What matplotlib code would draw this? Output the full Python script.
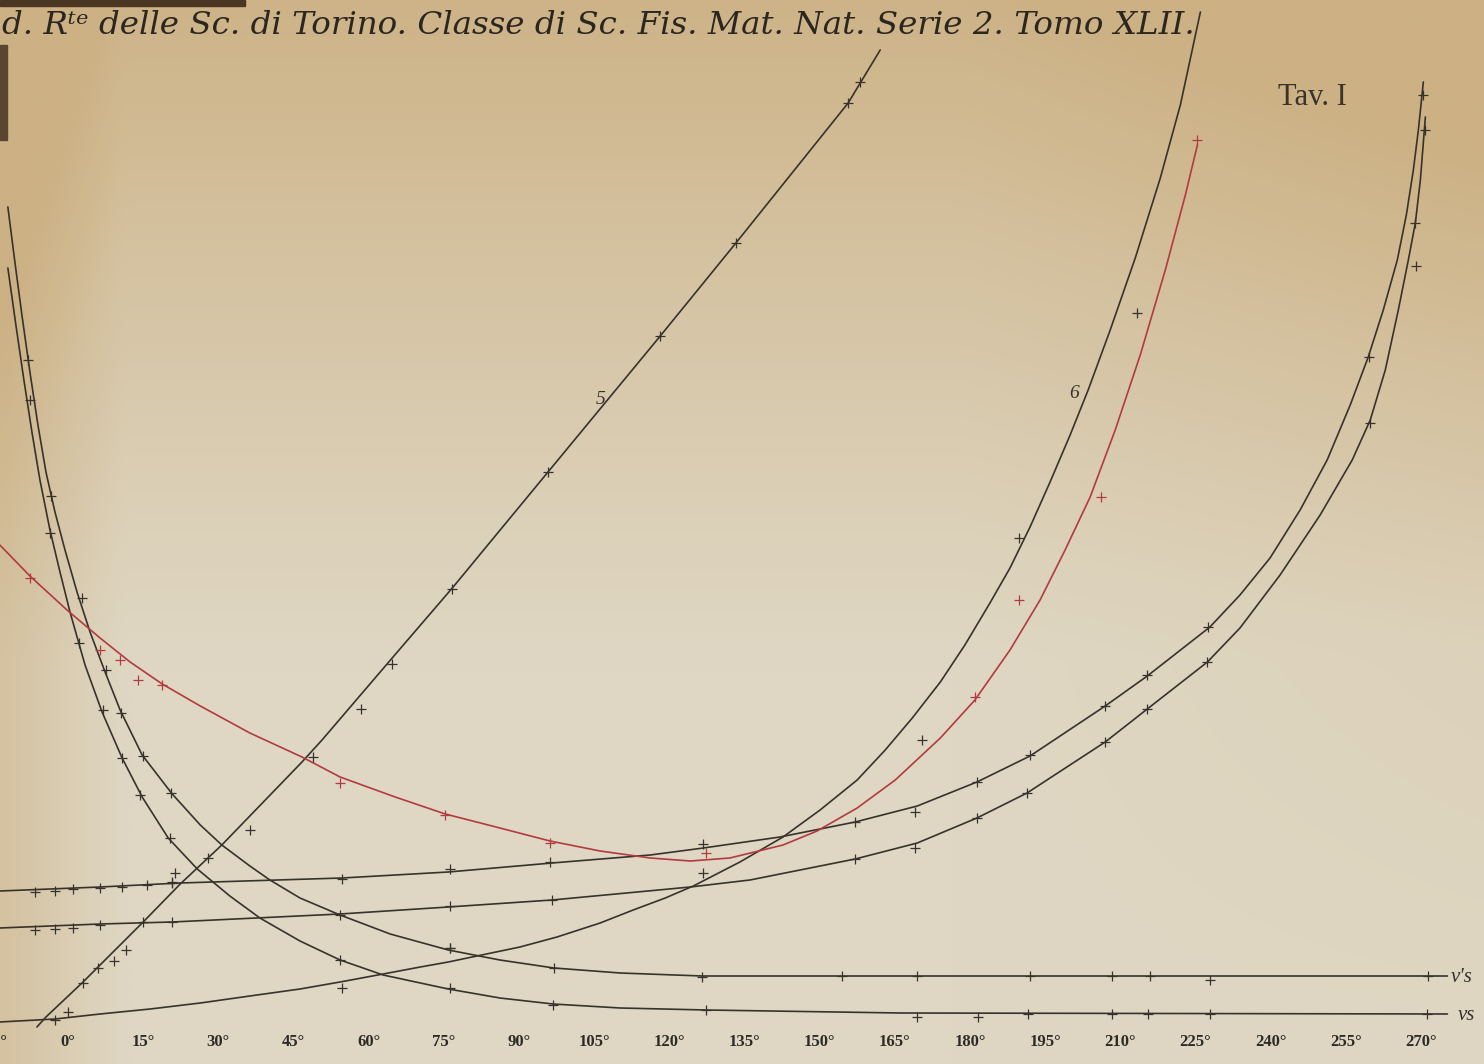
import matplotlib
matplotlib.use("Agg")
import matplotlib.pyplot as plt
import numpy as np

# temperature axis (degrees) and tick labels
ticks = list(range(-15, 271, 15))
tick_labels = ["%d°" % t for t in ticks]

# curve 5 (nearly straight line), drawn trace and observed points
c5_x = [-6.2, -4.4, 3.0, 6.4, 15.0, 22.4, 30.7, 46.7, 50.7, 64.7, 76.7, 95.8, 118.2, 133.3, 155.7, 162.1]
c5_y = [3.7, 4.7, 8.2, 9.9, 14.2, 18.0, 21.9, 30.2, 32.4, 40.6, 47.6, 59.2, 72.8, 82.1, 96.1, 101.4]
c5_px = [3.0, 6.0, 9.2, 11.6, 15.0, 20.8, 21.4, 27.9, 36.3, 48.9, 58.5, 64.7, 76.7, 95.8, 118.2, 133.3, 155.7, 158.1]
c5_py = [8.1, 9.6, 10.3, 11.4, 14.2, 18.2, 19.1, 20.6, 23.4, 30.7, 35.5, 40.0, 47.5, 59.2, 72.8, 82.1, 96.1, 98.2]

# curve 6
c6_x = [-13.6, -2.6, 6.4, 16.4, 26.4, 36.3, 46.3, 54.3, 62.9, 70.3, 75.9, 81.6, 90.2, 97.6,
        106.2, 112.8, 119.2, 124.8, 134.1, 142.7, 150.1, 157.5, 163.1, 168.5, 174.1, 179.0,
        184.0, 188.0, 192.0, 196.0, 200.0, 203.6, 208.0, 213.0, 218.0, 222.0, 226.0]
c6_y = [4.2, 4.5, 5.0, 5.5, 6.1, 6.8, 7.5, 8.2, 9.0, 9.7, 10.2, 10.8, 11.7, 12.7,
        14.1, 15.4, 16.6, 17.8, 20.2, 22.7, 25.4, 28.4, 31.4, 34.6, 38.2, 41.9,
        46.1, 49.6, 53.7, 58.2, 62.9, 67.4, 73.4, 80.6, 88.6, 95.9, 105.2]
c6_px = [-2.6, 0.0, 54.7, 76.2, 126.7, 170.5, 189.8, 213.4]
c6_py = [4.4, 5.2, 7.6, 11.6, 19.1, 32.4, 52.6, 75.1]

# red U-shaped curve
red_x = [-13.6, -7.6, -0.2, 6.4, 12.4, 18.8, 26.4, 36.3, 46.7, 54.3, 65.3, 75.3, 86.2, 96.2,
         106.2, 116.2, 124.2, 132.1, 142.7, 149.5, 157.5, 165.1, 174.1, 181.0, 188.0, 194.0,
         199.0, 204.0, 209.0, 214.0, 219.0, 223.0, 225.4]
red_y = [51.9, 48.8, 45.4, 42.6, 40.2, 38.0, 35.8, 33.1, 30.7, 28.7, 26.7, 25.0, 23.6, 22.3,
         21.3, 20.6, 20.3, 20.6, 21.9, 23.3, 25.6, 28.4, 32.6, 36.4, 41.4, 46.4,
         51.4, 56.7, 63.4, 70.9, 79.4, 86.9, 91.9]
red_px = [-7.6, 6.4, 10.4, 14.0, 18.8, 54.3, 75.2, 96.2, 127.3, 181.0, 189.8, 206.2, 225.3]
red_py = [48.6, 41.4, 40.4, 38.4, 37.9, 28.1, 24.9, 22.1, 21.1, 36.7, 46.4, 56.7, 92.4]

# upper slowly rising curve
cC_x = [-13.6, 6.4, 22.4, 54.7, 75.9, 96.6, 116.2, 126.8, 142.1, 157.1, 169.5, 181.4, 192.0,
        207.0, 215.4, 227.9, 233.9, 239.9, 245.9, 251.3, 255.9, 259.5, 262.5, 265.3, 267.1,
        268.5, 269.5, 270.5]
cC_y = [17.3, 17.7, 18.1, 18.6, 19.2, 20.1, 20.9, 21.6, 22.7, 24.2, 25.8, 28.2, 30.8,
        35.8, 38.8, 43.7, 46.9, 50.6, 55.4, 60.4, 65.9, 70.7, 75.4, 80.4, 84.9,
        89.4, 93.4, 98.2]
cC_px = [-6.6, -2.6, 1.0, 6.4, 10.8, 15.8, 20.8, 54.7, 76.2, 96.2, 126.7, 157.1, 169.1, 181.4,
         192.0, 207.0, 215.4, 227.5, 259.7, 270.5]
cC_py = [17.2, 17.3, 17.5, 17.6, 17.7, 17.9, 18.1, 18.5, 19.5, 20.2, 22.0, 24.2, 25.2, 28.2,
         30.9, 35.8, 38.9, 43.7, 70.7, 96.9]

# lower slowly rising curve
cD_x = [-13.6, 6.4, 20.8, 54.3, 75.9, 96.6, 124.2, 136.1, 157.1, 169.5, 181.4, 191.4, 207.0,
        215.4, 227.4, 233.9, 241.9, 249.9, 256.3, 259.9, 262.9, 265.5, 267.5, 268.9, 269.9, 270.9]
cD_y = [13.6, 14.0, 14.2, 15.0, 15.7, 16.4, 17.7, 18.4, 20.5, 22.1, 24.6, 27.1, 32.2,
        35.5, 40.2, 43.6, 48.9, 54.9, 60.4, 64.4, 69.4, 75.4, 80.4, 84.1, 88.4, 94.7]
cD_px = [-6.6, -2.6, 1.0, 6.4, 20.8, 76.2, 96.6, 157.1, 169.1, 181.4, 191.4, 207.0, 215.4,
         227.3, 259.9, 268.9, 269.1, 270.9]
cD_py = [13.4, 13.5, 13.6, 13.9, 14.2, 15.8, 16.4, 20.5, 21.6, 24.6, 27.1, 32.2, 35.5,
         40.2, 64.1, 84.1, 79.8, 93.4]

# v's : decaying curve ending on the upper horizontal
cE_x = [-12.0, -10.6, -9.2, -7.6, -6.0, -4.4, -2.6, -0.6, 1.8, 4.4, 7.4, 10.4, 14.8, 20.8,
        26.4, 30.7, 36.3, 40.3, 46.3, 54.3, 64.3, 75.9, 86.2, 97.0, 110.2, 126.6, 156.1, 275.3]
cE_y = [85.7, 80.2, 74.9, 69.2, 63.9, 59.2, 55.2, 51.4, 47.2, 43.2, 39.2, 35.4, 30.9, 27.0,
        23.9, 21.9, 19.8, 18.4, 16.6, 14.9, 13.0, 11.4, 10.4, 9.6, 9.1, 8.8, 8.8, 8.8]
cE_px = [-8.0, -3.4, 2.8, 7.6, 10.6, 15.0, 20.6, 54.3, 76.2, 97.0, 126.5, 154.5, 169.5,
         192.0, 208.4, 216.0, 227.9, 271.5]
cE_py = [70.4, 56.8, 46.6, 39.4, 35.1, 30.8, 27.1, 14.9, 11.6, 9.6, 8.7, 8.8, 8.8,
         8.8, 8.8, 8.8, 8.4, 8.8]

# vs : decaying curve ending on the lower horizontal
cF_x = [-12.0, -10.4, -8.8, -7.2, -5.6, -3.6, -1.6, 0.4, 3.4, 6.8, 10.8, 14.8, 20.0, 25.8,
        32.3, 38.3, 46.3, 54.3, 62.9, 75.9, 86.2, 96.8, 110.2, 127.4, 166.1, 275.3]
cF_y = [79.6, 73.9, 68.4, 63.2, 58.4, 53.4, 49.2, 45.2, 39.9, 35.2, 30.6, 26.7, 22.6, 19.5,
        16.8, 14.6, 12.3, 10.4, 8.9, 7.5, 6.6, 6.0, 5.6, 5.4, 5.1, 5.0]
cF_px = [-7.6, -3.6, 2.2, 7.0, 10.8, 14.4, 20.4, 54.3, 76.2, 96.8, 127.3, 169.5, 181.6,
         191.6, 208.4, 215.6, 227.9, 271.3]
cF_py = [66.4, 53.1, 42.1, 35.4, 30.6, 26.9, 22.6, 10.4, 7.6, 5.9, 5.4, 4.7, 4.7,
         5.0, 5.0, 5.0, 5.0, 5.0]

ink = "#37322c"
red = "#b23a40"

fig = plt.figure(figsize=(14.84, 10.64), dpi=100)
ax = fig.add_axes([0, 0, 1, 1])
x0, x1, y0, y1 = -13.57, 282.6, 0, 106.4
ax.set_xlim(x0, x1)
ax.set_ylim(y0, y1)
ax.axis("off")

# aged paper background
H, W = 107, 149
gy = np.linspace(0, 1, H)[:, None]
gx = np.linspace(0, 1, W)[None, :]
light = np.array([223, 215, 195]) / 255
tan = np.array([204, 177, 132]) / 255
f = np.clip(0.95 * (1 - gy / 0.62), 0, 1) ** 1.1
f = f + 0.35 * np.clip((gx - 0.65) / 0.35, 0, 1) * (1 - gy)
f = f + 0.55 * np.clip(1 - gx / 0.08, 0, 1)
f = np.clip(f, 0, 1)[..., None]
bg = light * (1 - f) + tan * f
ax.imshow(bg, extent=(x0, x1, y0, y1), aspect="auto", zorder=0, interpolation="bicubic")

line_kw = dict(lw=1.2, solid_capstyle="round", solid_joinstyle="round", zorder=2)
mk_kw = dict(ls="none", marker="+", ms=7, mew=0.9, zorder=3)

for xs, ys, pxs, pys, col in [
    (c5_x, c5_y, c5_px, c5_py, ink),
    (c6_x, c6_y, c6_px, c6_py, ink),
    (cC_x, cC_y, cC_px, cC_py, ink),
    (cD_x, cD_y, cD_px, cD_py, ink),
    (cE_x, cE_y, cE_px, cE_py, ink),
    (cF_x, cF_y, cF_px, cF_py, ink),
    (red_x, red_y, red_px, red_py, red),
]:
    ax.plot(xs, ys, color=col, **line_kw)
    ax.plot(pxs, pys, color=col, **mk_kw)

# temperature labels along the bottom (the first one runs off the plate, as in the original)
for t, lab in zip(ticks, tick_labels):
    ax.text(t, 2.2, lab, ha="center", va="center", fontsize=12, fontweight="bold",
            family="Liberation Serif", color="#2e2a26")

# curve names
ax.text(275.9, 8.7, "v's", fontsize=15, style="italic", family="Liberation Serif",
        va="center", ha="left", color=ink)
ax.text(277.4, 4.9, "vs", fontsize=15, style="italic", family="Liberation Serif",
        va="center", ha="left", color=ink)
ax.text(106.2, 66.4, "5", fontsize=14, style="italic", family="Liberation Serif",
        va="center", ha="center", color=ink)
ax.text(200.8, 67.1, "6", fontsize=14, style="italic", family="Liberation Serif",
        va="center", ha="center", color=ink)

ax.text(241.5, 95.9, "Tav. I", fontsize=22, family="Liberation Serif", va="baseline",
        ha="left", color="#3a332b")

ax.text(-13.2, 103.0,
        "d. Rᵗᵉ delle Sc. di Torino. Classe di Sc. Fis. Mat. Nat. Serie 2. Tomo XLII.",
        fontsize=23.4, style="italic", family="DejaVu Serif", va="baseline", ha="left",
        color="#2c2620")

# dark binding marks at the top-left edge
fig.patches.append(plt.Rectangle((0, 1 - 6 / 1064), 245 / 1484, 6 / 1064,
                                 transform=fig.transFigure, color="#4b3622", zorder=5))
fig.patches.append(plt.Rectangle((0, 1 - 140 / 1064), 7 / 1484, 95 / 1064,
                                 transform=fig.transFigure, color="#5a4530", zorder=5))

fig.savefig("out.png", dpi=100)
